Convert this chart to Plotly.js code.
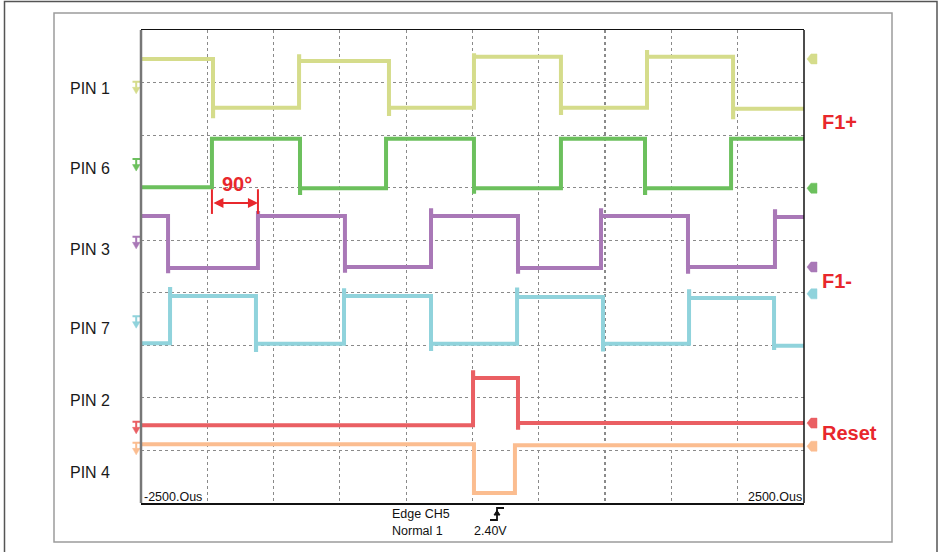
<!DOCTYPE html>
<html>
<head>
<meta charset="utf-8">
<script src="https://cdn.plot.ly/plotly-3.0.1.min.js"></script>
<style>html,body{margin:0;padding:0;background:#fff;}#chart{width:946px;height:552px;}</style>
</head>
<body>
<div id="chart"></div>
<script>
// ---- data (time in µs, level in screen divisions from the bottom) ----
const timeRange = [-2500, 2500];
const channelNames = ["PIN 1", "PIN 6", "PIN 3", "PIN 7", "PIN 2", "PIN 4"];
const channelColors = ["#d5dc8b", "#6cc05d", "#a978b7", "#90d3dc", "#ea5f63", "#fbbd90"];

const pin1Edges  = [-1957, -1308, -630, 11, 667, 1316, 1965];
const pin1Levels = [8.45, 7.52, 8.41, 7.52, 8.49, 7.52, 8.49, 7.50];
const pin1Spikes = [7.36, 8.50, 7.40, 8.52, 7.42, 8.58, 7.34];

const pin6Edges  = [-1965, -1301, -652, 11, 667, 1301, 1950];
const pin6Levels = [6.01, 6.93, 5.99, 6.93, 5.99, 6.93, 5.99, 6.93];
const pin6Spikes = [null, 5.90, null, 5.92, null, 5.90, null];

const pin3Edges  = [-2296, -1618, -962, -313, 343, 969, 1625, 2281];
const pin3Levels = [5.46, 4.47, 5.46, 4.49, 5.46, 4.47, 5.46, 4.49, 5.44];
const pin3Spikes = [4.41, 5.52, 4.42, 5.57, 4.40, 5.57, 4.40, 5.55];

const pin7Edges  = [-2281, -1633, -969, -313, 336, 984, 1633, 2274];
const pin7Levels = [3.04, 3.94, 3.03, 3.94, 3.03, 3.92, 3.03, 3.90, 2.99];
const pin7Spikes = [4.07, 2.91, 4.05, 2.93, 4.06, 2.92, 4.03, 2.95];

const pin2Edges  = [4, 343];
const pin2Levels = [1.48, 2.38, 1.52];
const pin2Spikes = [2.49, 1.43];

const pin4Edges  = [11, 320];
const pin4Levels = [1.12, 0.19, 1.10];
const pin4Spikes = [null, null];

const groundLevels = [7.90, 6.43, 4.95, 3.44, 1.43, 1.03];
const markerLevels = [8.45, 5.99, 4.49, 3.98, 1.52, 1.08];

// ---- build step traces ----
function buildStep(edges, levels, spikes) {
  const x = [timeRange[0]], y = [levels[0]];
  edges.forEach((e, i) => {
    if (spikes[i] !== null && spikes[i] !== undefined) {
      x.push(e); y.push(spikes[i]);
      x.push(e + 1); y.push(levels[i + 1]);
    } else {
      x.push(e); y.push(levels[i + 1]);
    }
  });
  x.push(timeRange[1]); y.push(levels[levels.length - 1]);
  return {x, y};
}

const series = [
  [pin1Edges, pin1Levels, pin1Spikes],
  [pin6Edges, pin6Levels, pin6Spikes],
  [pin3Edges, pin3Levels, pin3Spikes],
  [pin7Edges, pin7Levels, pin7Spikes],
  [pin2Edges, pin2Levels, pin2Spikes],
  [pin4Edges, pin4Levels, pin4Spikes]
];

const traces = series.map((s, i) => {
  const d = buildStep(s[0], s[1], s[2]);
  return {
    type: "scatter", mode: "lines", name: channelNames[i],
    x: d.x, y: d.y,
    line: {shape: "hv", color: channelColors[i], width: 4},
    hoverinfo: "skip", showlegend: false
  };
});

// ---- pixel helpers for decorations ----
const L = 141, T = 30, R = 804, B = 503;
const px2x = px => (px - L) / (R - L);
const py2y = py => (B - py) / (B - T);
const pxPerDiv = (B - T) / 9;
const dy = px => px / pxPerDiv;   // pixel offset -> divisions

const font = "Liberation Sans, Arial, sans-serif";
const red = "#e8272c";
const annotations = [];
const shapes = [];

const labelY = [89, 168, 249, 328, 400, 472];
channelNames.forEach((n, i) => {
  annotations.push({xref: "paper", yref: "paper", x: px2x(68), y: py2y(labelY[i]),
    xanchor: "left", yanchor: "middle", text: n, showarrow: false,
    font: {family: font, size: 16, color: "#1a1a1a"}});
  const c = channelColors[i];
  // ground marker on the left: bar + stem + arrowhead
  const g = groundLevels[i];
  shapes.push({type: "path", xref: "paper", yref: "y",
    path: "M" + px2x(132.5) + "," + (g + dy(6)) + " L" + px2x(140) + "," + (g + dy(6)) +
          " M" + px2x(136.2) + "," + (g + dy(6)) + " L" + px2x(136.2) + "," + (g + dy(0)),
    line: {color: c, width: 2}});
  shapes.push({type: "path", xref: "paper", yref: "y",
    path: "M" + px2x(132.5) + "," + (g + dy(0.5)) + " L" + px2x(140) + "," + (g + dy(0.5)) +
          " L" + px2x(136.2) + "," + (g - dy(6)) + " Z",
    fillcolor: c, line: {color: c, width: 0.5}});
  // level tag on the right
  const m = markerLevels[i];
  shapes.push({type: "path", xref: "paper", yref: "y",
    path: "M" + px2x(807) + "," + m + " L" + px2x(811) + "," + (m + dy(5)) + " L" + px2x(817) + "," + (m + dy(5)) +
          " L" + px2x(817) + "," + (m - dy(5)) + " L" + px2x(811) + "," + (m - dy(5)) + " Z",
    fillcolor: c, line: {color: c, width: 0.5}});
});

[["F1+", 122], ["F1-", 281], ["Reset", 433]].forEach(([t, y]) => {
  annotations.push({xref: "paper", yref: "paper", x: px2x(820), y: py2y(y),
    xanchor: "left", yanchor: "middle", text: "<b>" + t + "</b>", showarrow: false,
    font: {family: font, size: 20, color: red}});
});

annotations.push({xref: "paper", yref: "paper", x: px2x(220), y: py2y(184),
  xanchor: "left", yanchor: "middle", text: "<b>90°</b>", showarrow: false,
  font: {family: font, size: 20, color: red}});

// 90° dimension arrow between PIN 6 rising edge and PIN 3 rising edge
const dimY = 5.71;
annotations.push({x: pin3Edges[1], y: dimY, ax: pin6Edges[0], ay: dimY,
  xref: "x", yref: "y", axref: "x", ayref: "y", text: "", showarrow: true,
  arrowside: "end+start", arrowhead: 2, arrowsize: 1, arrowwidth: 2, arrowcolor: red});

annotations.push({xref: "paper", yref: "paper", x: px2x(142), y: py2y(497),
  xanchor: "left", yanchor: "middle", text: timeRange[0] + ".Ous", showarrow: false,
  font: {family: font, size: 12.5, color: "#111"}});
annotations.push({xref: "paper", yref: "paper", x: px2x(804), y: py2y(497),
  xanchor: "right", yanchor: "middle", text: timeRange[1] + ".Ous", showarrow: false,
  font: {family: font, size: 12.5, color: "#111"}});
[["Edge CH5", 390, 514], ["Normal 1", 390, 531], ["2.40V", 472, 531]].forEach(([t, x, y]) => {
  annotations.push({xref: "paper", yref: "paper", x: px2x(x), y: py2y(y),
    xanchor: "left", yanchor: "middle", text: t, showarrow: false,
    font: {family: font, size: 12.5, color: "#111"}});
});

// ---- frame and misc shapes ----
const P = (x, y) => px2x(x) + "," + py2y(y);
shapes.push(
  {type: "rect", xref: "paper", yref: "paper", x0: px2x(4.5), x1: px2x(937), y0: py2y(560), y1: py2y(1.5),
    line: {color: "#555", width: 1.5}, layer: "below"},
  {type: "rect", xref: "paper", yref: "paper", x0: px2x(54), x1: px2x(892), y0: py2y(542), y1: py2y(13),
    line: {color: "#9c9c9c", width: 1.5}, layer: "below"},
  {type: "line", xref: "paper", yref: "paper", x0: 0, x1: 0, y0: 0, y1: 1, line: {color: "#777", width: 2.5}},
  {type: "line", xref: "paper", yref: "paper", x0: 1, x1: 1, y0: 0, y1: 1, line: {color: "#111", width: 1.5}},
  {type: "line", xref: "x", yref: "y", x0: pin6Edges[0], x1: pin6Edges[0], y0: 5.50, y1: 5.97, line: {color: red, width: 2}},
  {type: "line", xref: "x", yref: "y", x0: pin3Edges[1], x1: pin3Edges[1], y0: 5.50, y1: 5.97, line: {color: red, width: 2}},
  {type: "path", xref: "paper", yref: "paper",
    path: "M" + P(490, 520) + " L" + P(497, 520) + " L" + P(497, 508) + " L" + P(504, 508),
    line: {color: "#111", width: 1.8}},
  {type: "path", xref: "paper", yref: "paper",
    path: "M" + P(494, 515) + " L" + P(497, 510.5) + " L" + P(500, 515) + " Z",
    fillcolor: "#111", line: {color: "#111", width: 1}}
);

const layout = {
  width: 946, height: 552,
  margin: {l: L, r: 946 - R, t: T, b: 552 - B, pad: 0},
  paper_bgcolor: "#fff", plot_bgcolor: "#fff",
  showlegend: false,
  xaxis: {range: timeRange, dtick: 500, tick0: -2500, showticklabels: false, ticks: "",
    showgrid: true, gridcolor: "#8a8a8a", griddash: "dot", gridwidth: 1.2,
    zeroline: false, showline: true, mirror: true, linecolor: "#111", linewidth: 1.5, fixedrange: true},
  yaxis: {range: [0, 9], dtick: 1, tick0: 0, showticklabels: false, ticks: "",
    showgrid: true, gridcolor: "#8a8a8a", griddash: "dot", gridwidth: 1.2,
    zeroline: false, showline: false, fixedrange: true},
  annotations, shapes
};

Plotly.newPlot("chart", traces, layout, {displayModeBar: false, staticPlot: true});
</script>
</body>
</html>
